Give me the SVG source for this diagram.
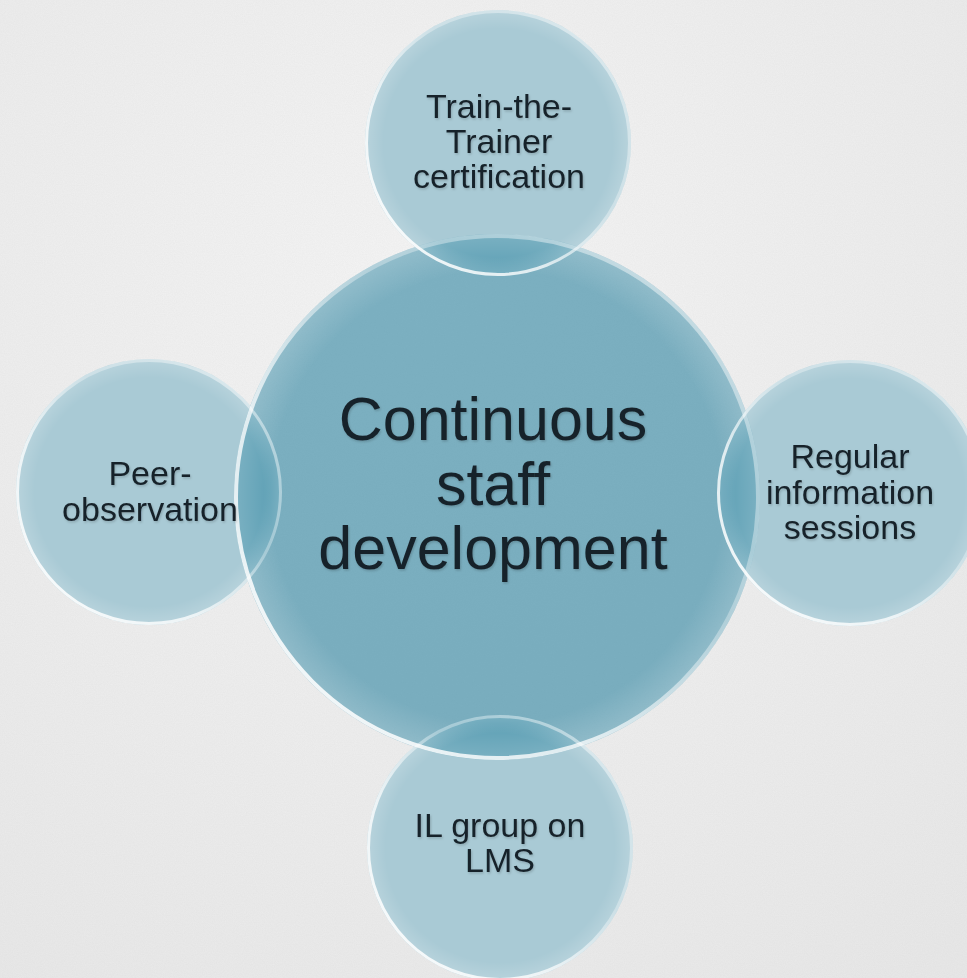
<svg xmlns="http://www.w3.org/2000/svg" width="967" height="978" viewBox="0 0 967 978">
  <defs>
    <radialGradient id="bg" cx="0.45" cy="0.3" r="0.85">
      <stop offset="0" stop-color="#f5f5f5"/>
      <stop offset="1" stop-color="#e8e8e8"/>
    </radialGradient>
    <filter id="noise" x="0" y="0" width="100%" height="100%">
      <feTurbulence type="fractalNoise" baseFrequency="0.9" numOctaves="2" seed="3" result="n"/>
      <feColorMatrix in="n" type="matrix" values="0 0 0 0 0.5  0 0 0 0 0.5  0 0 0 0 0.5  0 0 0 0.14 0"/>
    </filter>
    <linearGradient id="rim" x1="0" y1="1" x2="1" y2="0">
      <stop offset="0" stop-color="#ffffff" stop-opacity="0.95"/>
      <stop offset="0.35" stop-color="#ffffff" stop-opacity="0.75"/>
      <stop offset="0.6" stop-color="#ffffff" stop-opacity="0.3"/>
      <stop offset="1" stop-color="#ffffff" stop-opacity="0.55"/>
    </linearGradient>
    <radialGradient id="sheen" cx="0.5" cy="0.5" r="0.5">
      <stop offset="0.86" stop-color="#ffffff" stop-opacity="0"/>
      <stop offset="1" stop-color="#ffffff" stop-opacity="0.18"/>
    </radialGradient>
    <filter id="ts" x="-10%" y="-20%" width="120%" height="150%">
      <feDropShadow dx="1" dy="1.5" stdDeviation="1" flood-color="#000" flood-opacity="0.18"/>
    </filter>
    <style>
      .sat { fill: #a9cad5; }
      .corefill { fill: #2d84a0; fill-opacity: 0.6; }
      .rim { fill: none; stroke: url(#rim); stroke-width: 3; }
      .rimc { fill: none; stroke: url(#rim); stroke-width: 4; }
      .sh { fill: url(#sheen); }
      .lbl { font-family: "Liberation Sans", Arial, sans-serif; fill: #18232a; text-anchor: middle; filter: url(#ts); }
      .small { font-size: 34px; }
      .big { font-size: 61px; }
    </style>
  </defs>

  <rect width="967" height="978" fill="url(#bg)"/>
  <rect width="967" height="978" filter="url(#noise)"/>

  <g id="node-top">
    <circle class="sat" cx="498" cy="143" r="133"/>
  </g>
  <g id="node-left">
    <circle class="sat" cx="149" cy="492" r="133"/>
  </g>
  <g id="node-right">
    <circle class="sat" cx="850" cy="493" r="133"/>
  </g>
  <g id="node-bottom">
    <circle class="sat" cx="500" cy="848" r="133"/>
  </g>

  <g id="node-center">
    <circle class="corefill" cx="497" cy="497" r="263"/>
    <circle class="sh" cx="497" cy="497" r="263"/>
    <circle class="rimc" cx="497" cy="497" r="261"/>
  </g>

  <g id="rims">
    <circle class="sh" cx="498" cy="143" r="133"/>
    <circle class="rim" cx="498" cy="143" r="131.5"/>
    <circle class="sh" cx="149" cy="492" r="133"/>
    <circle class="rim" cx="149" cy="492" r="131.5"/>
    <circle class="sh" cx="850" cy="493" r="133"/>
    <circle class="rim" cx="850" cy="493" r="131.5"/>
    <circle class="sh" cx="500" cy="848" r="133"/>
    <circle class="rim" cx="500" cy="848" r="131.5"/>
  </g>

  <g id="connectors"></g>

  <g id="labels">
    <text class="lbl big" x="493"><tspan x="493" y="440">Continuous</tspan><tspan x="493" y="505">staff</tspan><tspan x="493" y="569">development</tspan></text>
    <text class="lbl small" x="499"><tspan x="499" y="118">Train-the-</tspan><tspan x="499" y="153">Trainer</tspan><tspan x="499" y="188">certification</tspan></text>
    <text class="lbl small" x="150"><tspan x="150" y="485">Peer-</tspan><tspan x="150" y="521">observation</tspan></text>
    <text class="lbl small" x="850"><tspan x="850" y="468">Regular</tspan><tspan x="850" y="504">information</tspan><tspan x="850" y="539">sessions</tspan></text>
    <text class="lbl small" x="500"><tspan x="500" y="837">IL group on</tspan><tspan x="500" y="872">LMS</tspan></text>
  </g>
</svg>
